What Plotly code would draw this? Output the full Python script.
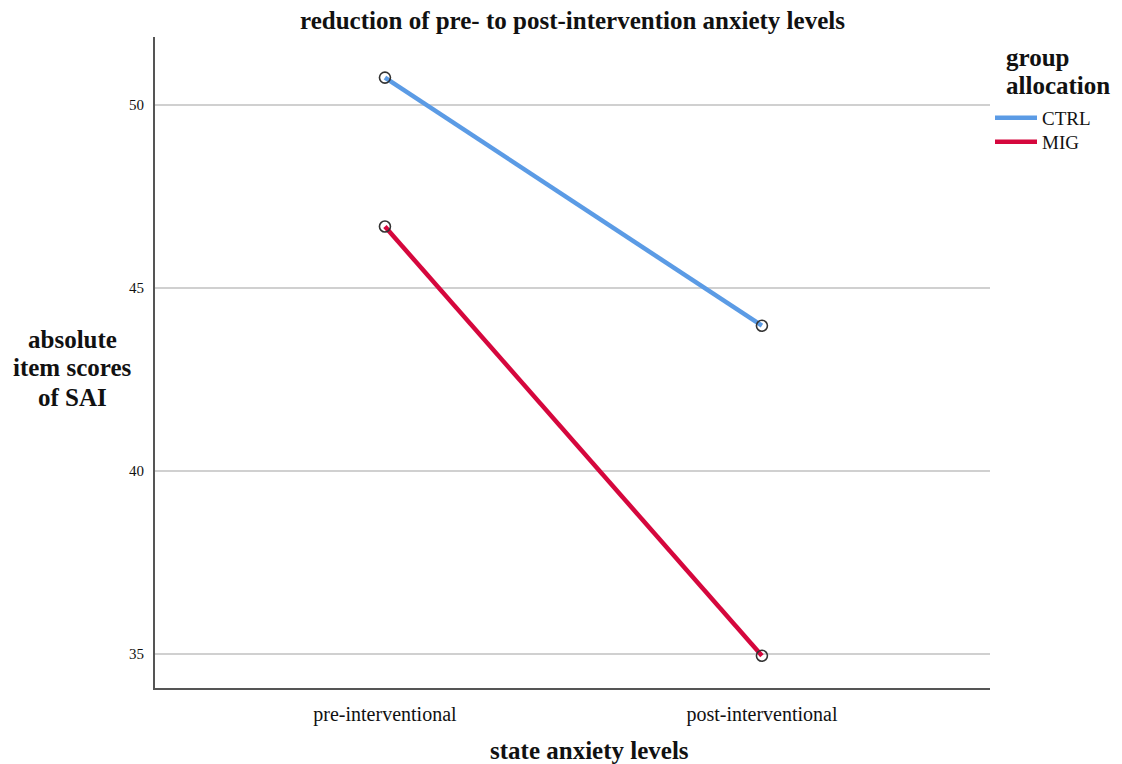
import plotly.graph_objects as go

categories = ["pre-interventional", "post-interventional"]
ctrl_values = [50.75, 43.97]
mig_values = [46.68, 34.95]
series_names = ["CTRL", "MIG"]
series_colors = ["#5B9BE5", "#D5073D"]
y_ticks = [35, 40, 45, 50]
y_title_lines = ["absolute", "item scores", "of SAI"]
legend_title_lines = ["group", "allocation"]

serif = "Liberation Serif, Times New Roman, serif"

W, H = 1114, 756
ML, MR, MT, MB = 147, 132, 29, 76
PW, PH = W - ML - MR, H - MT - MB


def px(x):
    return (x - 8 - ML) / PW


def py(y):
    return 1 - (y - 8 - MT) / PH


fig = go.Figure()
legend_ids = ["legend", "legend2"]
for name, vals, col, lg in zip(series_names, [ctrl_values, mig_values], series_colors, legend_ids):
    fig.add_trace(go.Scatter(
        x=categories, y=vals, mode="lines", name=name, legend=lg,
        line=dict(color=col, width=4.5),
    ))
for vals in [ctrl_values, mig_values]:
    fig.add_trace(go.Scatter(
        x=categories, y=vals, mode="markers", showlegend=False,
        marker=dict(symbol="circle-open", size=11, color="#333333",
                    line=dict(width=1.6, color="#333333")),
        hoverinfo="skip",
    ))

legend_common = dict(
    x=px(990), xanchor="left", yanchor="top",
    font=dict(size=19, family=serif, color="#111111"),
    bgcolor="rgba(0,0,0,0)", tracegroupgap=0, itemwidth=42,
)

fig.update_layout(
    width=W, height=H,
    margin=dict(l=ML, r=MR, t=MT, b=MB),
    paper_bgcolor="white", plot_bgcolor="white",
    font=dict(family=serif, color="#111111"),
    title=dict(text="<b>reduction of pre- to post-intervention anxiety levels</b>",
               x=0.5, xref="paper", xanchor="center", y=1 - 12 / H, yanchor="middle",
               font=dict(size=25, family=serif, color="#111111")),
    legend=dict(y=py(99), **legend_common),
    legend2=dict(y=py(123), **legend_common),
    showlegend=True,
)
fig.update_xaxes(
    type="category", range=[-0.61, 1.605],
    showline=True, linecolor="#555555", linewidth=2,
    showgrid=False, ticks="", tickfont=dict(size=20, family=serif, color="#111111"),
    ticklabelstandoff=7, zeroline=False,
)
fig.update_yaxes(
    range=[34.07, 51.86], tickvals=y_ticks,
    showline=True, linecolor="#555555", linewidth=2,
    showgrid=True, gridcolor="#D0D0D0", gridwidth=2,
    ticks="", tickfont=dict(size=15, family=serif, color="#111111"),
    ticklabelstandoff=6, zeroline=False,
)
fig.add_annotation(
    text="<b>state anxiety levels</b>", xref="paper", yref="paper",
    x=px(589), y=py(750), xanchor="center", yanchor="middle", showarrow=False,
    font=dict(size=25, family=serif, color="#111111"),
)
for line, yy in zip(y_title_lines, [339, 368, 397]):
    fig.add_annotation(
        text=f"<b>{line}</b>", xref="paper", yref="paper",
        x=px(72), y=py(yy), xanchor="center", yanchor="middle", showarrow=False,
        font=dict(size=25, family=serif, color="#111111"),
    )
for line, yy in zip(legend_title_lines, [57, 85]):
    fig.add_annotation(
        text=f"<b>{line}</b>", xref="paper", yref="paper",
        x=px(1004), y=py(yy), xanchor="left", yanchor="middle", showarrow=False,
        font=dict(size=25, family=serif, color="#111111"),
    )

fig.write_html("out.html")
